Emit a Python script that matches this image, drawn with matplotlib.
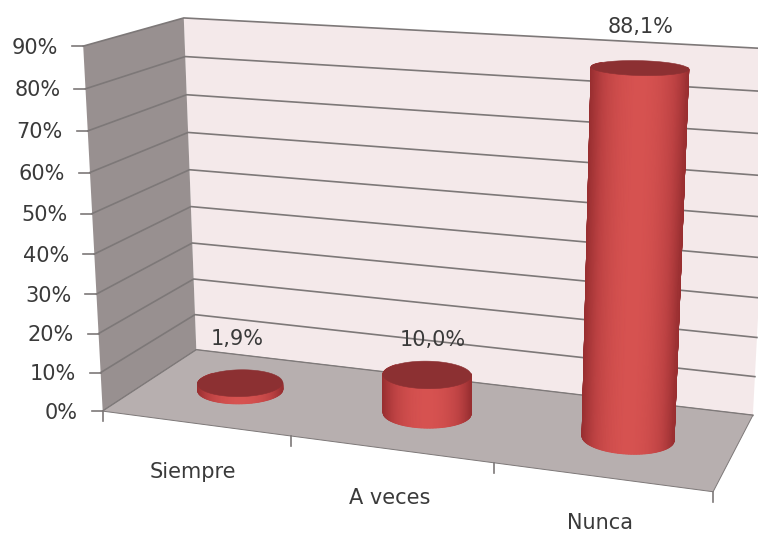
import numpy as np
import matplotlib
matplotlib.use("Agg")
import matplotlib.pyplot as plt
from matplotlib.colors import LinearSegmentedColormap
from matplotlib.patches import Polygon

categories = ["Siempre", "A veces", "Nunca"]
values = [1.9, 10.0, 88.1]
value_labels = ["1,9%", "10,0%", "88,1%"]
y_ticks = [0, 10, 20, 30, 40, 50, 60, 70, 80, 90]
y_tick_labels = ["0%", "10%", "20%", "30%", "40%", "50%", "60%", "70%", "80%", "90%"]

label_shift = [(-3, -44), (6, -35), (1, -41)]
category_shift = [(-2, 49), (-1, 49), (-1, 46)]

WALL = "#f4e9ea"
SIDE = "#989090"
FLOOR = "#b7afaf"
GRID = "#7d7878"
TOP = "#8c3032"
TXT = "#3a3a3a"
FS = 15
CYL = LinearSegmentedColormap.from_list("cyl", ["#992f31", "#bd4243", "#d65250"])

# camera calibration: chart-box corners (category, depth, value) -> image position
box = [(0, 1, 90), (0, 1, 0), (3, 1, 90), (3, 1, 0), (0, 0, 90), (0, 0, 0), (3, 0, 0)]
img = [(184, 18), (196, 350), (772, 49), (753, 415), (83, 46), (103, 411), (713, 492)]
A = []
for (u, w, v), (x, y) in zip(box, img):
    X = [u, w, v / 90, 1]
    A.append(X + [0, 0, 0, 0] + [-x * c for c in X])
    A.append([0, 0, 0, 0] + X + [-y * c for c in X])
P = np.linalg.svd(np.array(A, float))[2][-1].reshape(3, 4)


def proj(u, w, v):
    u, w, v = np.broadcast_arrays(u, w, v)
    H = np.stack([u, w, v / 90, np.ones_like(u, dtype=float)])
    q = P @ H
    return q[0] / q[2], q[1] / q[2]


def pts(*corners):
    return np.array([proj(*c) for c in corners], float)


fig = plt.figure(figsize=(7.58, 5.34), dpi=100, facecolor="white")
ax = fig.add_axes([0, 0, 1, 1])
ax.set_xlim(0, 758)
ax.set_ylim(534, 0)
ax.axis("off")

top = y_ticks[-1]
n = len(categories)
ax.add_patch(Polygon(pts((0, 1, 0), (0, 1, top), (n, 1, top), (n, 1, 0)), fc=WALL, ec="none", zorder=1))
ax.add_patch(Polygon(pts((0, 0, 0), (0, 0, top), (0, 1, top), (0, 1, 0)), fc=SIDE, ec="none", zorder=1))

for t, lab in zip(y_ticks, y_tick_labels):
    p = pts((0, 0, t), (0, 1, t), (n, 1, t))
    ax.plot(p[:, 0], p[:, 1], color=GRID, lw=1.2, zorder=2)
    ax.plot([p[0, 0] - 11, p[0, 0]], [p[0, 1], p[0, 1]], color=GRID, lw=1.2, zorder=2)
    ax.text(p[0, 0] - 25, p[0, 1] + 1.5, lab, ha="right", va="center", fontsize=FS, color=TXT, zorder=6)

ax.add_patch(Polygon(pts((0, 0, 0), (0, 1, 0), (n, 1, 0), (n, 0, 0)), fc=FLOOR, ec=GRID, lw=0.7, zorder=3))
for i in range(n + 1):
    x, y = proj(i, 0, 0)
    ax.plot([x, x], [y, y + 10], color=GRID, lw=1.2, zorder=3)

RU, RW = 0.215, 0.20
theta = np.linspace(np.pi - 0.45, 2 * np.pi + 0.45, 121)
full = np.linspace(0, 2 * np.pi, 181)
for i, (val, vlab, cat) in enumerate(zip(values, value_labels, categories)):
    cu = i + 0.5
    uu = cu + RU * np.cos(theta)
    ww = 0.5 + RW * np.sin(theta)
    bx, by = proj(uu, ww, 0)
    tx, ty = proj(uu, ww, val)
    shade = np.clip(1 - np.abs(2 * (bx - bx.min()) / (bx.max() - bx.min()) - 1) ** 2.2, 0, 1)
    ax.pcolormesh(np.array([bx, tx]), np.array([by, ty]), np.array([shade, shade]),
                  shading="gouraud", cmap=CYL, vmin=0, vmax=1, zorder=4)
    ex, ey = proj(cu + RU * np.cos(full), 0.5 + RW * np.sin(full), val)
    ax.add_patch(Polygon(np.c_[ex, ey], fc=TOP, ec=TOP, lw=0.4, zorder=5))

    cx, cy = proj(cu, 0.5, val)
    ax.text(cx + label_shift[i][0], cy + label_shift[i][1], vlab, ha="center", va="center",
            fontsize=FS, color=TXT, zorder=6)
    gx, gy = proj(cu, 0, 0)
    ax.text(gx + category_shift[i][0], gy + category_shift[i][1], cat, ha="center", va="center",
            fontsize=FS, color=TXT, zorder=6)

fig.savefig("out.png", dpi=100, facecolor="white")
